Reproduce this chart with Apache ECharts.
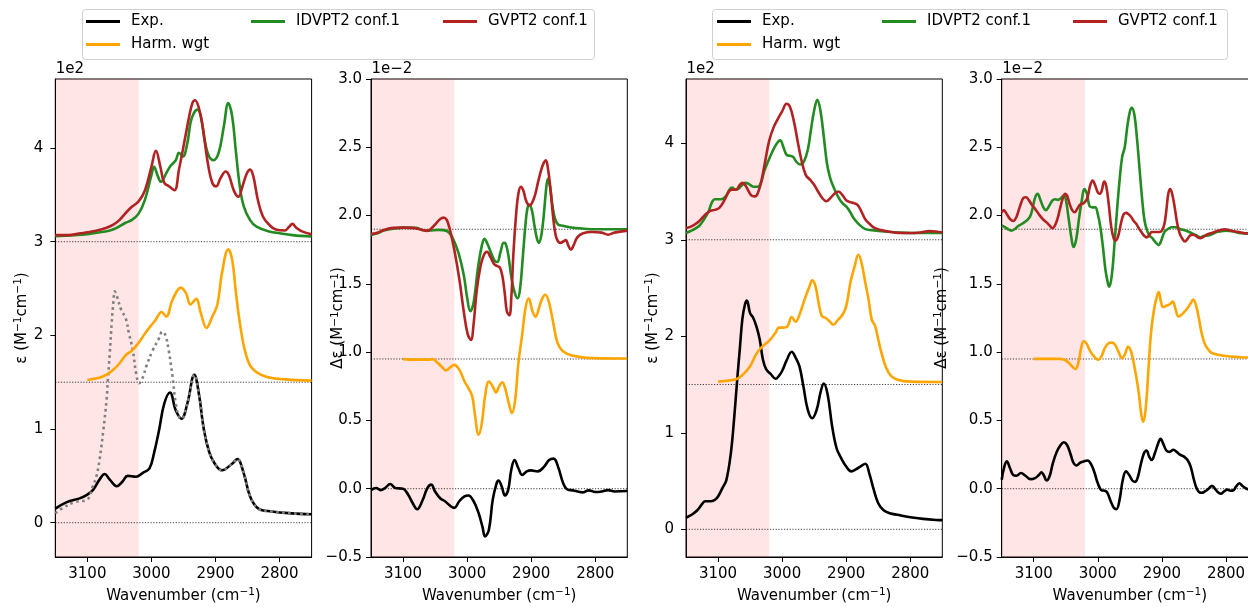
<!DOCTYPE html>
<html>
<head>
<meta charset="utf-8">
<script src="https://cdn.jsdelivr.net/npm/echarts@6/dist/echarts.min.js"></script>
<style>html,body{margin:0;padding:0;background:#fff;}#c{width:1248px;height:607px;}</style>
</head>
<body>
<div id="c"></div>
<script>
// ---------- data (wavenumber, value) ----------
const xTicks = [2800, 2900, 3000, 3100];
const yTicksAbs = [0, 1, 2, 3, 4];
const yTicksCD = [-0.5, 0, 0.5, 1.0, 1.5, 2.0, 2.5, 3.0];
const shadeRange = [3150, 3020];
const baselinesAbs = [0, 1.5, 3.0];
const baselinesCD = [0, 0.95, 1.9];

// Panel 1 (absorption, 1e2)
const p1Exp = [[3150,0.15],[3132,0.22],[3112,0.26],[3100,0.30],[3091,0.35],[3081,0.46],[3073,0.52],[3065,0.46],[3054,0.39],[3045,0.44],[3037,0.50],[3024,0.49],[3014,0.53],[3003,0.58],[2996,0.74],[2988,0.99],[2980,1.27],[2971,1.39],[2962,1.20],[2953,1.11],[2944,1.27],[2933,1.58],[2926,1.38],[2918,0.99],[2910,0.76],[2902,0.64],[2890,0.56],[2874,0.63],[2866,0.68],[2856,0.53],[2846,0.28],[2833,0.15],[2812,0.12],[2781,0.10],[2750,0.09]];
const p1Ref = [[3150,0.10],[3140,0.15],[3120,0.22],[3100,0.25],[3092,0.38],[3086,0.49],[3081,0.67],[3075,0.99],[3070,1.31],[3068,1.52],[3065,1.81],[3062,2.13],[3060,2.30],[3057,2.47],[3054,2.42],[3047,2.27],[3040,2.18],[3035,2.02],[3029,1.84],[3024,1.60],[3019,1.49],[3013,1.56],[3008,1.67],[2998,1.84],[2988,1.97],[2983,2.04],[2978,2.00],[2973,1.84],[2967,1.56],[2962,1.27],[2957,1.13],[2953,1.11],[2944,1.27],[2933,1.58],[2926,1.38],[2918,0.99],[2910,0.76],[2902,0.64],[2890,0.56],[2874,0.63],[2866,0.68],[2856,0.53],[2846,0.28],[2833,0.15],[2812,0.12],[2781,0.10],[2750,0.09]];
const p1Harm = [[3100,1.524],[3080,1.55],[3070,1.58],[3060,1.63],[3050,1.70],[3040,1.79],[3030,1.84],[3020,1.92],[3010,2.02],[3000,2.11],[2994,2.16],[2984,2.25],[2977,2.20],[2967,2.38],[2954,2.51],[2946,2.45],[2939,2.33],[2930,2.39],[2923,2.24],[2914,2.08],[2905,2.20],[2897,2.33],[2890,2.66],[2880,2.92],[2874,2.81],[2868,2.45],[2861,2.09],[2853,1.81],[2843,1.65],[2822,1.56],[2791,1.53],[2750,1.517]];
const p1Idv = [[3150,3.06],[3120,3.07],[3100,3.08],[3080,3.10],[3060,3.13],[3041,3.20],[3031,3.23],[3020,3.30],[3010,3.45],[3000,3.71],[2996,3.80],[2990,3.70],[2985,3.64],[2977,3.73],[2970,3.81],[2962,3.87],[2957,3.95],[2951,3.91],[2944,4.05],[2939,4.27],[2934,4.37],[2928,4.41],[2923,4.34],[2916,4.05],[2910,3.91],[2903,3.87],[2895,3.95],[2887,4.23],[2880,4.48],[2874,4.34],[2868,3.95],[2862,3.59],[2856,3.38],[2846,3.23],[2836,3.16],[2816,3.11],[2800,3.09],[2780,3.07],[2750,3.055]];
const p1Gv = [[3150,3.07],[3130,3.07],[3110,3.09],[3100,3.10],[3085,3.12],[3070,3.15],[3060,3.18],[3050,3.23],[3041,3.30],[3031,3.37],[3020,3.43],[3010,3.55],[3000,3.80],[2993,3.97],[2986,3.80],[2980,3.63],[2972,3.59],[2964,3.55],[2957,3.77],[2949,4.05],[2941,4.34],[2936,4.48],[2932,4.51],[2926,4.43],[2920,4.23],[2912,3.84],[2905,3.63],[2899,3.59],[2892,3.68],[2884,3.75],[2879,3.71],[2871,3.54],[2864,3.48],[2858,3.59],[2851,3.73],[2846,3.77],[2841,3.70],[2834,3.45],[2826,3.27],[2816,3.18],[2806,3.13],[2792,3.12],[2785,3.16],[2780,3.19],[2774,3.15],[2765,3.11],[2750,3.08]];

// Panel 2 (VCD, 1e-2)
const p2Exp = [[3150,-0.01],[3142,0.005],[3135,-0.01],[3128,0.005],[3120,0.034],[3112,0.005],[3100,0.0],[3092,-0.044],[3085,-0.105],[3078,-0.15],[3070,-0.09],[3062,0.005],[3056,0.03],[3050,-0.02],[3042,-0.07],[3035,-0.09],[3025,-0.13],[3020,-0.14],[3012,-0.09],[3004,-0.056],[2998,-0.05],[2990,-0.09],[2982,-0.18],[2976,-0.28],[2972,-0.35],[2966,-0.30],[2960,-0.08],[2954,0.04],[2951,0.06],[2946,0.017],[2941,-0.05],[2936,-0.01],[2931,0.14],[2926,0.21],[2920,0.15],[2914,0.10],[2907,0.127],[2900,0.134],[2890,0.127],[2880,0.16],[2872,0.21],[2865,0.22],[2858,0.16],[2850,0.04],[2843,-0.007],[2835,-0.012],[2820,-0.027],[2810,-0.012],[2800,-0.024],[2790,-0.02],[2780,-0.01],[2770,-0.02],[2750,-0.017]];
const p2Harm = [[3100,0.949],[3080,0.945],[3060,0.945],[3054,0.949],[3048,0.93],[3040,0.895],[3033,0.866],[3026,0.89],[3020,0.907],[3012,0.87],[3004,0.785],[2998,0.737],[2992,0.676],[2988,0.55],[2982,0.395],[2977,0.48],[2972,0.676],[2966,0.785],[2960,0.749],[2955,0.705],[2950,0.75],[2945,0.78],[2940,0.724],[2935,0.627],[2930,0.553],[2925,0.65],[2920,0.92],[2914,1.13],[2909,1.32],[2904,1.395],[2898,1.30],[2893,1.26],[2888,1.32],[2883,1.39],[2878,1.42],[2872,1.36],[2865,1.20],[2859,1.07],[2850,1.005],[2834,0.973],[2813,0.958],[2762,0.954],[2750,0.954]];
const p2Idv = [[3150,1.858],[3140,1.87],[3130,1.89],[3110,1.907],[3100,1.912],[3080,1.91],[3070,1.895],[3060,1.89],[3045,1.895],[3031,1.885],[3022,1.83],[3013,1.72],[3005,1.56],[3000,1.40],[2995,1.30],[2990,1.36],[2983,1.62],[2977,1.78],[2973,1.83],[2968,1.79],[2962,1.72],[2957,1.67],[2953,1.66],[2948,1.73],[2943,1.80],[2940,1.795],[2936,1.72],[2931,1.55],[2926,1.44],[2921,1.395],[2917,1.48],[2913,1.70],[2909,1.93],[2906,2.05],[2903,2.08],[2899,2.04],[2895,1.93],[2891,1.83],[2888,1.80],[2884,1.86],[2880,2.02],[2877,2.18],[2874,2.27],[2871,2.22],[2867,2.08],[2863,1.98],[2858,1.935],[2850,1.925],[2840,1.915],[2820,1.905],[2800,1.90],[2750,1.90]];
const p2Gv = [[3150,1.866],[3140,1.875],[3130,1.895],[3115,1.91],[3100,1.912],[3085,1.91],[3070,1.895],[3063,1.888],[3056,1.905],[3048,1.945],[3042,1.975],[3037,1.985],[3032,1.97],[3027,1.90],[3020,1.75],[3012,1.53],[3005,1.29],[2999,1.13],[2994,1.09],[2990,1.20],[2985,1.45],[2979,1.63],[2974,1.71],[2969,1.735],[2964,1.70],[2958,1.645],[2953,1.63],[2949,1.62],[2945,1.56],[2941,1.42],[2938,1.30],[2934,1.27],[2931,1.40],[2928,1.70],[2924,1.98],[2920,2.16],[2916,2.21],[2912,2.18],[2908,2.11],[2903,2.075],[2899,2.09],[2894,2.15],[2889,2.25],[2884,2.34],[2880,2.39],[2877,2.405],[2874,2.35],[2870,2.20],[2866,2.00],[2862,1.86],[2858,1.81],[2854,1.80],[2850,1.81],[2846,1.82],[2842,1.78],[2838,1.75],[2834,1.78],[2828,1.84],[2819,1.87],[2805,1.88],[2790,1.875],[2780,1.86],[2770,1.875],[2750,1.89]];

// Panel 3 (absorption, 1e2)
const p3Exp = [[3150,0.12],[3140,0.156],[3132,0.20],[3125,0.26],[3120,0.29],[3112,0.29],[3105,0.305],[3100,0.34],[3093,0.43],[3087,0.51],[3080,0.79],[3075,1.14],[3070,1.56],[3066,1.87],[3062,2.18],[3058,2.33],[3055,2.37],[3050,2.24],[3045,2.19],[3040,2.10],[3035,1.97],[3030,1.76],[3025,1.66],[3018,1.61],[3010,1.56],[3005,1.59],[3000,1.64],[2993,1.75],[2985,1.84],[2979,1.78],[2973,1.69],[2967,1.49],[2960,1.24],[2953,1.15],[2946,1.24],[2940,1.42],[2935,1.51],[2929,1.40],[2922,1.07],[2915,0.84],[2908,0.74],[2900,0.65],[2892,0.60],[2885,0.62],[2878,0.65],[2870,0.68],[2864,0.58],[2857,0.41],[2850,0.27],[2842,0.20],[2832,0.167],[2820,0.15],[2800,0.125],[2780,0.108],[2760,0.097],[2750,0.095]];
const p3Harm = [[3100,1.53],[3080,1.545],[3070,1.56],[3060,1.61],[3050,1.69],[3040,1.82],[3030,1.90],[3020,1.955],[3010,2.04],[3005,2.09],[2998,2.09],[2992,2.10],[2985,2.20],[2979,2.15],[2972,2.24],[2965,2.38],[2957,2.52],[2953,2.58],[2948,2.52],[2943,2.345],[2938,2.21],[2932,2.19],[2926,2.155],[2920,2.12],[2913,2.17],[2906,2.22],[2900,2.31],[2893,2.57],[2887,2.72],[2881,2.845],[2876,2.76],[2870,2.55],[2865,2.38],[2860,2.17],[2855,2.11],[2850,1.97],[2845,1.83],[2838,1.68],[2830,1.59],[2820,1.55],[2800,1.53],[2750,1.527]];
const p3Idv = [[3150,3.07],[3140,3.10],[3130,3.14],[3122,3.21],[3115,3.29],[3110,3.38],[3105,3.42],[3095,3.42],[3088,3.45],[3082,3.52],[3078,3.54],[3073,3.52],[3068,3.53],[3062,3.57],[3058,3.59],[3052,3.58],[3045,3.55],[3038,3.55],[3033,3.59],[3028,3.71],[3022,3.81],[3014,3.93],[3008,4.00],[3003,4.03],[2998,3.96],[2993,3.88],[2988,3.87],[2983,3.86],[2978,3.81],[2972,3.78],[2966,3.81],[2960,3.93],[2955,4.14],[2950,4.34],[2945,4.45],[2940,4.33],[2935,4.07],[2930,3.79],[2925,3.64],[2920,3.55],[2913,3.45],[2906,3.38],[2900,3.345],[2894,3.29],[2888,3.22],[2880,3.16],[2870,3.11],[2860,3.10],[2840,3.086],[2820,3.076],[2800,3.07],[2750,3.07]];
const p3Gv = [[3150,3.12],[3140,3.145],[3130,3.19],[3120,3.26],[3112,3.30],[3105,3.31],[3098,3.33],[3090,3.41],[3083,3.50],[3078,3.52],[3072,3.52],[3066,3.57],[3062,3.59],[3057,3.56],[3052,3.50],[3047,3.455],[3042,3.45],[3037,3.50],[3032,3.62],[3026,3.83],[3020,4.03],[3013,4.17],[3006,4.26],[3000,4.33],[2993,4.41],[2988,4.38],[2982,4.24],[2976,4.03],[2970,3.83],[2963,3.67],[2956,3.62],[2950,3.57],[2944,3.50],[2937,3.43],[2931,3.40],[2925,3.43],[2918,3.48],[2912,3.50],[2906,3.465],[2900,3.41],[2894,3.39],[2888,3.38],[2882,3.36],[2876,3.29],[2870,3.21],[2862,3.155],[2855,3.12],[2845,3.10],[2835,3.086],[2825,3.076],[2815,3.07],[2800,3.07],[2785,3.076],[2770,3.09],[2760,3.086],[2750,3.076]];

// Panel 4 (VCD, 1e-2)
const p4Exp = [[3150,0.066],[3146,0.16],[3142,0.20],[3137,0.15],[3132,0.10],[3127,0.095],[3120,0.115],[3113,0.095],[3105,0.07],[3098,0.078],[3092,0.10],[3088,0.12],[3084,0.095],[3080,0.06],[3075,0.095],[3070,0.19],[3064,0.27],[3058,0.32],[3053,0.34],[3048,0.32],[3043,0.26],[3038,0.19],[3033,0.17],[3028,0.19],[3022,0.20],[3016,0.207],[3010,0.175],[3005,0.115],[3000,0.04],[2994,-0.012],[2989,-0.015],[2985,-0.03],[2980,-0.09],[2975,-0.14],[2971,-0.15],[2966,-0.08],[2961,0.066],[2956,0.127],[2951,0.10],[2946,0.06],[2942,0.05],[2938,0.078],[2933,0.176],[2928,0.26],[2924,0.28],[2920,0.237],[2916,0.21],[2911,0.26],[2906,0.33],[2902,0.366],[2898,0.33],[2893,0.28],[2888,0.27],[2882,0.285],[2877,0.27],[2872,0.25],[2866,0.237],[2860,0.21],[2855,0.16],[2850,0.066],[2846,0.005],[2842,-0.024],[2838,-0.03],[2833,-0.02],[2826,0.005],[2822,0.022],[2818,0.005],[2813,-0.024],[2808,-0.037],[2803,-0.02],[2798,-0.007],[2793,-0.015],[2788,-0.01],[2784,0.017],[2779,0.04],[2775,0.024],[2770,0.005],[2760,-0.01],[2750,-0.01]];
const p4Harm = [[3100,0.951],[3080,0.951],[3060,0.951],[3052,0.944],[3045,0.92],[3040,0.895],[3035,0.876],[3030,0.93],[3026,1.03],[3022,1.08],[3018,1.066],[3013,1.017],[3008,0.98],[3002,0.95],[2999,0.944],[2994,0.973],[2989,1.03],[2983,1.066],[2978,1.07],[2973,1.054],[2968,1.005],[2962,0.956],[2957,0.993],[2953,1.04],[2949,1.017],[2945,0.944],[2940,0.82],[2936,0.70],[2932,0.54],[2929,0.49],[2925,0.60],[2921,0.87],[2917,1.14],[2912,1.32],[2907,1.42],[2905,1.44],[2901,1.36],[2898,1.33],[2893,1.34],[2888,1.35],[2883,1.37],[2879,1.32],[2874,1.26],[2868,1.28],[2862,1.31],[2856,1.35],[2851,1.385],[2846,1.33],[2842,1.24],[2838,1.14],[2833,1.06],[2826,1.01],[2820,0.99],[2804,0.973],[2778,0.963],[2750,0.96]];
const p4Idv = [[3150,1.927],[3145,1.915],[3140,1.90],[3135,1.89],[3130,1.90],[3125,1.92],[3118,1.94],[3112,1.96],[3106,1.99],[3102,2.05],[3098,2.13],[3094,2.16],[3090,2.12],[3085,2.06],[3081,2.04],[3076,2.07],[3071,2.11],[3067,2.12],[3062,2.115],[3057,2.13],[3053,2.146],[3050,2.12],[3045,1.96],[3041,1.83],[3038,1.77],[3034,1.82],[3029,1.99],[3025,2.11],[3021,2.195],[3017,2.16],[3013,2.07],[3008,2.06],[3004,2.06],[3000,2.01],[2996,1.915],[2992,1.77],[2988,1.60],[2984,1.50],[2982,1.48],[2978,1.57],[2974,1.79],[2970,2.04],[2966,2.26],[2962,2.43],[2958,2.50],[2954,2.65],[2950,2.76],[2947,2.79],[2943,2.74],[2939,2.57],[2935,2.35],[2931,2.13],[2927,1.96],[2923,1.89],[2919,1.85],[2916,1.84],[2912,1.817],[2909,1.80],[2905,1.785],[2901,1.817],[2896,1.88],[2891,1.90],[2885,1.915],[2878,1.915],[2871,1.90],[2866,1.895],[2860,1.885],[2853,1.87],[2846,1.854],[2840,1.84],[2835,1.85],[2826,1.855],[2818,1.873],[2810,1.883],[2800,1.89],[2790,1.885],[2780,1.873],[2770,1.87],[2750,1.87]];
const p4Gv = [[3150,2.02],[3147,2.04],[3142,2.01],[3137,1.975],[3132,1.96],[3127,1.99],[3122,2.06],[3116,2.13],[3112,2.134],[3108,2.115],[3103,2.08],[3098,2.05],[3092,2.01],[3086,1.975],[3080,1.95],[3075,1.927],[3071,1.907],[3067,1.927],[3063,1.975],[3059,2.05],[3055,2.12],[3051,2.16],[3048,2.146],[3044,2.085],[3040,2.04],[3036,2.024],[3032,2.05],[3028,2.08],[3024,2.085],[3020,2.10],[3016,2.134],[3012,2.22],[3008,2.256],[3004,2.22],[3000,2.17],[2997,2.16],[2994,2.18],[2990,2.25],[2987,2.22],[2983,2.085],[2979,1.915],[2975,1.83],[2972,1.817],[2968,1.854],[2964,1.94],[2960,2.007],[2956,2.02],[2952,2.01],[2948,1.99],[2944,1.96],[2940,1.94],[2936,1.907],[2932,1.88],[2928,1.854],[2924,1.84],[2920,1.854],[2916,1.88],[2912,1.88],[2904,1.88],[2900,1.89],[2896,1.94],[2893,2.04],[2890,2.16],[2887,2.195],[2884,2.16],[2880,2.06],[2876,1.94],[2872,1.866],[2868,1.83],[2864,1.81],[2860,1.83],[2856,1.854],[2852,1.86],[2848,1.855],[2844,1.84],[2840,1.834],[2835,1.845],[2830,1.86],[2822,1.873],[2815,1.885],[2808,1.895],[2802,1.90],[2795,1.893],[2786,1.883],[2778,1.878],[2770,1.87],[2750,1.87]];

// ---------- layout / style ----------
const FONT = 'DejaVu Sans';
const C = {exp:'#000000', harm:'#ffa500', idv:'#228b22', gv:'#b22222', ref:'#808080'};
const N = {exp:'Exp.', harm:'Harm. wgt', idv:'IDVPT2 conf.1', gv:'GVPT2 conf.1'};
const EPS = 'ε (M{s|−1}cm{s|−1})';
const DEPS = 'Δε (M{s|−1}cm{s|−1})';
const panels = [
  {left:55.3, yMin:-0.366, yMax:4.737, ticks:yTicksAbs, base:baselinesAbs, exp:p1Exp, ref:p1Ref, harm:p1Harm, idv:p1Idv, gv:p1Gv, ylab:EPS, ylx:21.7, off:'1e2', dec:0},
  {left:371, yMin:-0.5, yMax:3.0, ticks:yTicksCD, base:baselinesCD, exp:p2Exp, harm:p2Harm, idv:p2Idv, gv:p2Gv, ylab:DEPS, ylx:338.3, off:'1e−2', dec:1},
  {left:686, yMin:-0.287, yMax:4.666, ticks:yTicksAbs, base:baselinesAbs, exp:p3Exp, harm:p3Harm, idv:p3Idv, gv:p3Gv, ylab:EPS, ylx:653, off:'1e2', dec:0},
  {left:1001.7, yMin:-0.5, yMax:3.0, ticks:yTicksCD, base:baselinesCD, exp:p4Exp, harm:p4Harm, idv:p4Idv, gv:p4Gv, ylab:DEPS, ylx:942, off:'1e−2', dec:1}
];
const TOP = 79, H = 478, W = 256.3;
const xMin = 2750, xMax = 3150;

const grids = [], xAxes = [], yAxes = [], series = [], graphics = [];
const txt = {color:'#000', fontFamily:FONT, fontSize:15};
const richSup = {s:{fontFamily:FONT, fontSize:10.5, lineHeight:10, verticalAlign:'top', color:'#000'}};

function lineSeries(name, data, color, gi, z, extra) {
  return Object.assign({
    type:'line', name, data, xAxisIndex:gi, yAxisIndex:gi,
    symbol:'none', showSymbol:false, smooth:0.4, silent:true, animation:false,
    lineStyle:{color, width:2.6}, itemStyle:{color}, z
  }, extra || {});
}

panels.forEach((p, i) => {
  grids.push({left:p.left, top:TOP, width:W, height:H, show:true, borderColor:'#000', borderWidth:1,
    backgroundColor:'transparent', containLabel:false, outerBoundsMode:'none'});
  xAxes.push({
    type:'value', gridIndex:i, min:xMin, max:xMax, inverse:true,
    axisLine:{show:true, onZero:false, lineStyle:{color:'#000', width:1}},
    axisTick:{show:true, length:5, lineStyle:{color:'#000', width:1}, customValues:xTicks},
    axisLabel:{...txt, margin:10, customValues:xTicks, formatter:v => String(v)},
    splitLine:{show:false},
    name:'Wavenumber (cm{s|−1})', nameLocation:'middle', nameGap:30,
    nameTextStyle:{...txt, lineHeight:18, rich:richSup}
  });
  yAxes.push({
    type:'value', gridIndex:i, min:p.yMin, max:p.yMax,
    axisLine:{show:true, onZero:false, lineStyle:{color:'#000', width:1}},
    axisTick:{show:true, length:5, lineStyle:{color:'#000', width:1}, customValues:p.ticks},
    axisLabel:{...txt, margin:p.dec ? 9 : 12, customValues:p.ticks,
      formatter:v => (p.dec ? v.toFixed(1) : String(Math.round(v))).replace('-', '−')},
    splitLine:{show:false}
  });
  // shading + baselines
  p.base.forEach((b, k) => {
    const s = lineSeries('base' + i + '_' + k, [[xMax, b], [xMin, b]], '#333', i, 1,
      {smooth:false, lineStyle:{color:'rgba(0,0,0,0.75)', width:1, type:[1.2,1.6]}});
    if (k === 0) {
      s.markArea = {silent:true, itemStyle:{color:'rgba(255,0,0,0.1)'},
        data:[[{xAxis:shadeRange[0]}, {xAxis:shadeRange[1]}]]};
    }
    series.push(s);
  });
  series.push(lineSeries(N.exp, p.exp, C.exp, i, 3));
  if (p.ref) series.push(lineSeries('ref', p.ref, C.ref, i, 4,
    {lineStyle:{color:C.ref, width:2.6, type:[2.6,3.4]}}));
  series.push(lineSeries(N.harm, p.harm, C.harm, i, 5));
  series.push(lineSeries(N.idv, p.idv, C.idv, i, 6));
  series.push(lineSeries(N.gv, p.gv, C.gv, i, 7));
  graphics.push({type:'text', x:p.ylx, y:TOP + H / 2, rotation:Math.PI / 2,
    style:{text:p.ylab, fontFamily:FONT, fontSize:15, lineHeight:18, fill:'#000', align:'center', verticalAlign:'middle',
      rich:{s:{fontFamily:FONT, fontSize:10.5, lineHeight:10, verticalAlign:'top', fill:'#000'}}}});
  graphics.push({type:'text', x:p.left + 0.5, y:69.5,
    style:{text:p.off, fontFamily:FONT, fontSize:15, fill:'#000', align:'left', verticalAlign:'middle'}});
});

// legend boxes
graphics.push({type:'rect', z:1, shape:{x:82.5, y:9.5, width:512, height:50, r:3},
  style:{fill:'rgba(255,255,255,0.8)', stroke:'#d0d0d0', lineWidth:1}});
graphics.push({type:'rect', z:1, shape:{x:712.5, y:9.5, width:515, height:50, r:3},
  style:{fill:'rgba(255,255,255,0.8)', stroke:'#d0d0d0', lineWidth:1}});

const legendPos = [
  [N.exp, 86, 13], [N.idv, 251, 13], [N.gv, 443, 13], [N.harm, 86, 36],
  [N.exp, 717, 13], [N.idv, 882, 13], [N.gv, 1073, 13], [N.harm, 717, 36]
];
const legends = legendPos.map(([name, l, t]) => ({
  data:[name], left:l, top:t, orient:'horizontal', padding:0, itemGap:0,
  itemWidth:34, itemHeight:3, icon:'rect', selectedMode:false, z:10,
  textStyle:{color:'#000', fontFamily:FONT, fontSize:15, lineHeight:17, padding:[0,0,0,6]}
}));

const chart = echarts.init(document.getElementById('c'), null, {renderer:'canvas'});
chart.setOption({
  animation:false,
  backgroundColor:'#fff',
  grid:grids, xAxis:xAxes, yAxis:yAxes, series, legend:legends,
  graphic:{elements:graphics}
});
</script>
</body>
</html>
